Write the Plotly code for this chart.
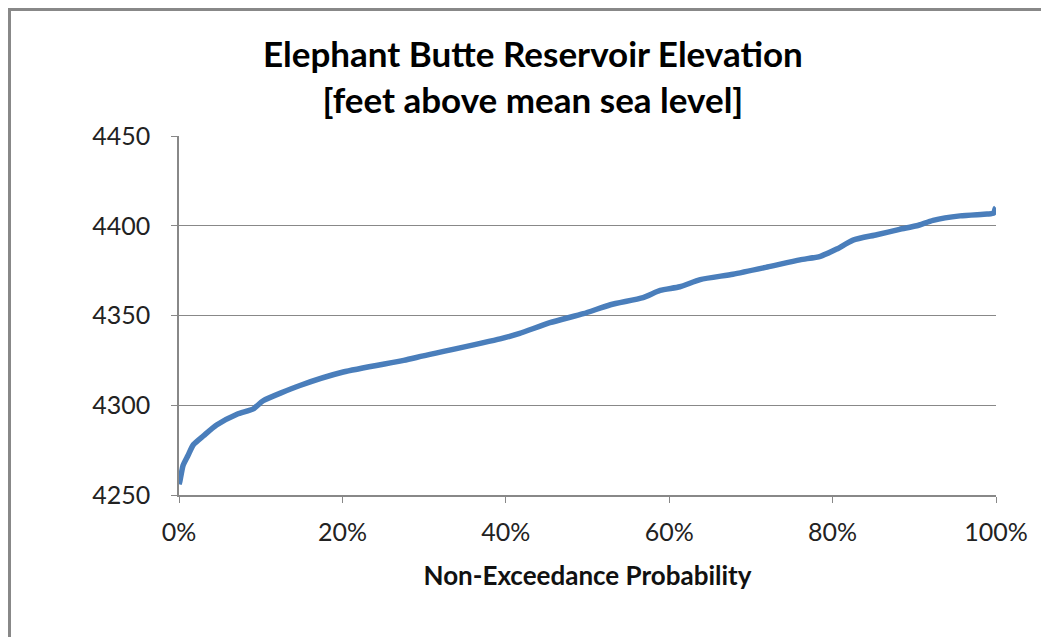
import plotly.graph_objects as go

# 非超越概率 (fraction) 与水库水位 (ft)
probability = [0.0, 0.001, 0.005, 0.011, 0.0175, 0.03, 0.046, 0.071, 0.091, 0.103,
               0.148, 0.201, 0.275, 0.299, 0.393, 0.417, 0.454, 0.495, 0.528,
               0.568, 0.589, 0.613, 0.638, 0.678, 0.72, 0.76, 0.785, 0.805,
               0.825, 0.854, 0.882, 0.903, 0.923, 0.956, 0.989, 0.997, 0.999, 1.0]
elevation = [4256, 4257.5, 4266.5, 4272, 4278, 4283, 4289, 4295, 4298, 4302.5,
             4311, 4318.5, 4325, 4327.5, 4337, 4340, 4346, 4351, 4356,
             4360, 4364, 4366, 4370, 4373, 4377, 4381, 4383, 4387,
             4392, 4395, 4398, 4400, 4403, 4405.5, 4406.5, 4407, 4409.5, 4410]

y_ticks = [4250, 4300, 4350, 4400, 4450]
x_ticks = [0, 0.2, 0.4, 0.6, 0.8, 1.0]

grid = '#888888'
font = 'Lato, Open Sans, sans-serif'

# 页面有 8px 的 body 边距: 绘图区在图内为 x 171..988, y 128..487
L, T, PW, PH = 171, 128, 817, 359

fig = go.Figure()

fig.add_trace(go.Scatter(
    x=probability,
    y=elevation,
    mode='lines',
    line=dict(color='#4a7ebb', width=5.5, shape='spline', smoothing=0.6),
    showlegend=False,
    hoverinfo='x+y'
))

fig.update_layout(
    width=1041,
    height=629,
    paper_bgcolor='white',
    plot_bgcolor='white',
    margin=dict(l=L, r=1041 - L - PW, t=T, b=629 - T - PH),
    font=dict(family=font, color='#222222'),
    xaxis=dict(
        range=[0, 1],
        tickvals=x_ticks,
        tickformat='.0%',
        showgrid=False,
        showline=True,
        linecolor=grid,
        linewidth=1.5,
        ticks='outside',
        ticklen=6,
        tickcolor=grid,
        tickfont=dict(size=25, color='#222222'),
        ticklabelstandoff=8,
        zeroline=False,
        title=dict(text='<b>Non-Exceedance Probability</b>',
                   font=dict(size=26, color='#111111'), standoff=22),
    ),
    yaxis=dict(
        range=[4250, 4450],
        tickvals=y_ticks,
        showgrid=True,
        gridcolor=grid,
        gridwidth=1.2,
        showline=True,
        linecolor=grid,
        linewidth=1.5,
        ticks='outside',
        ticklen=6,
        tickcolor=grid,
        tickfont=dict(size=25, color='#222222'),
        ticklabelstandoff=16,
        zeroline=False,
    ),
    annotations=[dict(
        text='<b>Elephant Butte Reservoir Elevation<br>[feet above mean sea level]</b>',
        xref='paper', yref='paper',
        x=(525 - L) / PW, y=(T + PH - 68) / PH,
        xanchor='center', yanchor='middle',
        showarrow=False,
        font=dict(size=35, color='#000000', family=font),
        align='center',
    )],
    shapes=[dict(
        type='rect', xref='paper', yref='paper',
        x0=(1.5 - L) / PW, x1=(1080 - L) / PW,
        y0=(T + PH - 660) / PH, y1=(T + PH - 1.5) / PH,
        line=dict(color='#888888', width=3),
        layer='below',
    )],
)

fig.write_html('out.html')
